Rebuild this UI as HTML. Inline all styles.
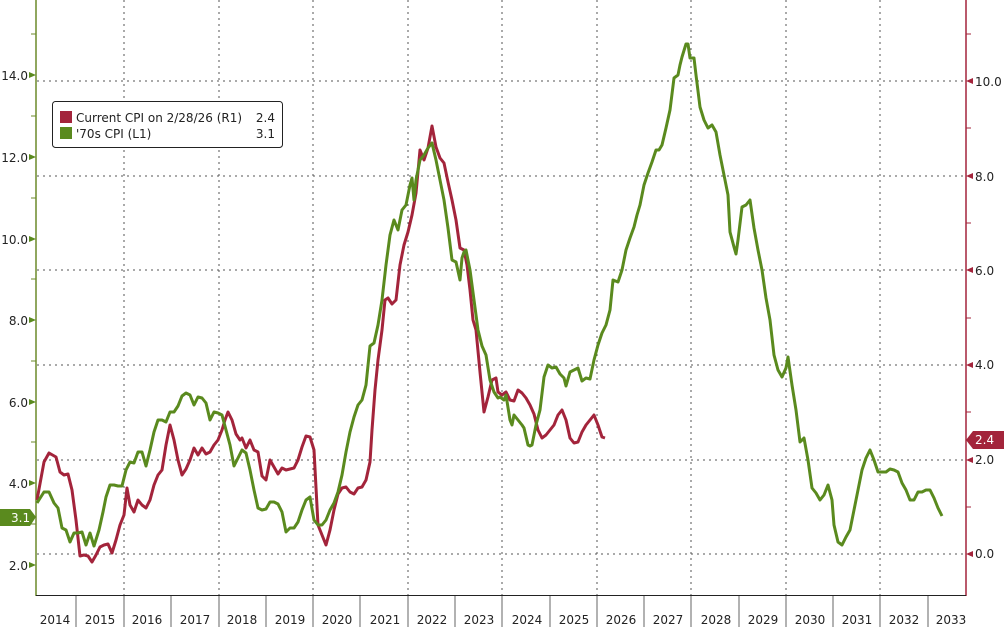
<!DOCTYPE html>
<html><head><meta charset="utf-8"><style>
html,body{margin:0;padding:0;background:#fff;}
svg{display:block;font-family:"DejaVu Sans","Liberation Sans",sans-serif;}
</style></head><body>
<svg width="1004" height="627" viewBox="0 0 1004 627" xmlns="http://www.w3.org/2000/svg">
<rect width="1004" height="627" fill="#fff"/>
<g stroke="#555" stroke-width="1" stroke-dasharray="2,4" fill="none">
<line x1="37" y1="81" x2="965" y2="81"/>
<line x1="37" y1="176" x2="965" y2="176"/>
<line x1="37" y1="270" x2="965" y2="270"/>
<line x1="37" y1="365" x2="965" y2="365"/>
<line x1="37" y1="460" x2="965" y2="460"/>
<line x1="37" y1="554" x2="965" y2="554"/>
<line x1="124" y1="0" x2="124" y2="595"/>
<line x1="219" y1="0" x2="219" y2="595"/>
<line x1="313" y1="0" x2="313" y2="595"/>
<line x1="408" y1="0" x2="408" y2="595"/>
<line x1="502" y1="0" x2="502" y2="595"/>
<line x1="597" y1="0" x2="597" y2="595"/>
<line x1="691" y1="0" x2="691" y2="595"/>
<line x1="786" y1="0" x2="786" y2="595"/>
<line x1="880" y1="0" x2="880" y2="595"/>
</g>
<line x1="36" y1="0" x2="36" y2="596" stroke="#6b8a2a" stroke-width="1.5"/>
<line x1="966" y1="0" x2="966" y2="596" stroke="#a3243b" stroke-width="1.5"/>
<line x1="36" y1="595.5" x2="966" y2="595.5" stroke="#222" stroke-width="1"/>
<g stroke="#666" stroke-width="1">
<line x1="76" y1="596" x2="76" y2="627"/><line x1="124" y1="596" x2="124" y2="627"/><line x1="171" y1="596" x2="171" y2="627"/><line x1="219" y1="596" x2="219" y2="627"/><line x1="266" y1="596" x2="266" y2="627"/><line x1="313" y1="596" x2="313" y2="627"/><line x1="360" y1="596" x2="360" y2="627"/><line x1="408" y1="596" x2="408" y2="627"/><line x1="455" y1="596" x2="455" y2="627"/><line x1="502" y1="596" x2="502" y2="627"/><line x1="550" y1="596" x2="550" y2="627"/><line x1="597" y1="596" x2="597" y2="627"/><line x1="644" y1="596" x2="644" y2="627"/><line x1="691" y1="596" x2="691" y2="627"/><line x1="739" y1="596" x2="739" y2="627"/><line x1="786" y1="596" x2="786" y2="627"/><line x1="833" y1="596" x2="833" y2="627"/><line x1="880" y1="596" x2="880" y2="627"/><line x1="928" y1="596" x2="928" y2="627"/>
</g>
<g font-size="12" fill="#222" text-anchor="middle">
<text x="55" y="624">2014</text><text x="100" y="624">2015</text><text x="147" y="624">2016</text><text x="195" y="624">2017</text><text x="242" y="624">2018</text><text x="290" y="624">2019</text><text x="337" y="624">2020</text><text x="385" y="624">2021</text><text x="432" y="624">2022</text><text x="479" y="624">2023</text><text x="527" y="624">2024</text><text x="574" y="624">2025</text><text x="621" y="624">2026</text><text x="668" y="624">2027</text><text x="716" y="624">2028</text><text x="763" y="624">2029</text><text x="810" y="624">2030</text><text x="857" y="624">2031</text><text x="904" y="624">2032</text><text x="951" y="624">2033</text>
</g>
<g font-size="12" fill="#222" text-anchor="end">
<text x="28" y="80">14.0</text><text x="28" y="162">12.0</text><text x="28" y="244">10.0</text><text x="28" y="325">8.0</text><text x="28" y="407">6.0</text><text x="28" y="488">4.0</text><text x="28" y="570">2.0</text>
</g>
<g fill="#5a8a1e">
<path d="M29,72 L36,75 L29,78Z"/><path d="M29,154 L36,157 L29,160Z"/><path d="M29,236 L36,239 L29,242Z"/><path d="M29,317 L36,320 L29,323Z"/><path d="M29,399 L36,402 L29,405Z"/><path d="M29,480 L36,483 L29,486Z"/><path d="M29,562 L36,565 L29,568Z"/>
</g>
<g stroke="#6b8a2a"><line x1="31" y1="34" x2="36" y2="34"/><line x1="31" y1="116" x2="36" y2="116"/><line x1="31" y1="198" x2="36" y2="198"/><line x1="31" y1="279" x2="36" y2="279"/><line x1="31" y1="361" x2="36" y2="361"/><line x1="31" y1="442" x2="36" y2="442"/><line x1="31" y1="524" x2="36" y2="524"/></g>
<g font-size="12" fill="#222">
<text x="975" y="86">10.0</text><text x="975" y="181">8.0</text><text x="975" y="275">6.0</text><text x="975" y="369">4.0</text><text x="975" y="464">2.0</text><text x="975" y="558">0.0</text>
</g>
<g fill="#a3243b">
<path d="M966,81 L973,78 L973,84Z"/><path d="M966,176 L973,173 L973,179Z"/><path d="M966,270 L973,267 L973,273Z"/><path d="M966,365 L973,362 L973,368Z"/><path d="M966,460 L973,457 L973,463Z"/><path d="M966,554 L973,551 L973,557Z"/>
</g>
<g stroke="#a3243b"><line x1="966" y1="34" x2="971" y2="34"/><line x1="966" y1="128" x2="971" y2="128"/><line x1="966" y1="223" x2="971" y2="223"/><line x1="966" y1="318" x2="971" y2="318"/><line x1="966" y1="412" x2="971" y2="412"/><line x1="966" y1="507" x2="971" y2="507"/></g>
<polyline fill="none" stroke="#a3243b" stroke-width="3" stroke-linejoin="round" points="37,500 44,462 49,453 56,457 60,472 64,475 68,474 72,490 76,520 80,556 84,555 88,556 92,562 96,555 100,547 104,545 108,544 112,553 116,540 120,525 124,515 127,488 130,505 134,512 138,500 142,505 146,508 150,500 154,485 158,475 162,470 166,445 170,425 174,440 178,460 182,475 186,469 190,460 194,448 198,455 202,448 206,454 210,452 214,445 218,440 222,430 225,420 228,412 232,420 236,434 240,440 242,438 246,448 250,440 254,450 258,452 262,476 266,480 270,460 274,467 278,474 282,468 286,470 290,469 294,468 298,460 302,447 306,436 310,437 314,450 318,525 322,535 326,545 330,530 334,510 338,494 342,488 346,487 350,492 354,494 358,488 362,487 366,480 370,462 372,430 375,390 378,360 382,330 385,300 388,298 392,304 396,300 400,265 404,245 408,232 412,215 416,193 420,150 424,160 428,148 432,126 436,147 440,158 444,163 448,182 452,200 456,220 460,248 464,250 467,265 470,290 473,320 476,330 480,372 484,412 488,397 492,380 496,378 498,392 502,395 506,392 510,400 514,401 518,390 522,393 526,398 530,405 534,414 538,430 542,438 546,435 550,430 554,425 558,415 562,410 566,420 570,438 574,443 578,442 582,432 586,425 590,420 594,415 598,425 602,437 605,438"/>
<polyline fill="none" stroke="#5a8a1e" stroke-width="3" stroke-linejoin="round" points="37,503 44,492 49,492 54,503 58,508 62,528 66,530 70,542 74,533 78,533 82,532 86,545 90,533 94,546 99,530 103,512 106,497 110,485 114,485 118,486 122,486 126,470 130,462 134,463 138,452 142,452 146,466 150,450 154,432 158,420 162,420 166,422 170,412 174,412 178,406 182,396 186,393 190,395 194,405 198,397 202,398 206,403 210,420 214,412 218,413 222,415 226,430 230,445 234,466 238,458 242,450 246,453 250,470 254,490 258,508 262,510 266,509 270,502 274,502 278,504 282,512 286,532 290,528 294,528 298,522 302,510 306,500 310,497 314,520 318,525 322,525 326,520 330,510 334,503 338,492 342,475 346,452 350,432 354,417 358,405 362,400 366,385 370,346 374,343 378,325 382,300 386,265 390,235 394,220 398,230 402,210 406,205 410,185 412,178 414,200 416,180 420,160 424,155 428,148 432,143 436,160 440,180 444,200 448,228 452,260 456,262 460,280 462,258 464,252 466,250 470,270 474,300 478,330 482,346 486,355 490,380 494,392 498,398 500,397 504,400 506,395 510,420 512,425 514,415 518,420 522,425 524,428 528,445 530,446 532,445 536,425 540,410 544,377 548,365 552,368 556,367 560,374 564,378 566,386 570,372 574,370 578,368 582,381 586,378 590,379 594,360 598,345 602,333 606,325 610,310 613,280 618,282 622,270 626,250 630,238 634,227 637,215 640,205 644,185 648,173 652,162 656,150 659,150 662,145 666,128 670,110 674,78 678,75 680,65 682,57 686,44 688,44 690,58 694,58 696,75 700,107 704,120 708,128 712,125 716,132 720,155 724,175 728,195 730,232 734,247 736,254 738,240 742,207 746,205 750,200 754,228 758,250 762,270 766,298 770,320 774,355 778,370 782,377 786,368 788,357 792,385 796,410 800,442 804,438 808,460 812,488 816,493 820,500 824,495 828,485 832,500 834,525 838,542 842,545 846,537 850,530 854,510 858,490 862,470 866,458 870,450 874,460 878,472 882,472 886,472 890,469 894,470 898,472 902,483 906,490 910,500 914,500 918,492 922,492 926,490 930,490 934,498 938,508 942,516"/>
<rect x="52.5" y="101.5" width="230" height="46" rx="3" fill="#fff" stroke="#222" stroke-width="1"/>
<rect x="60" y="111" width="12" height="12" fill="#a3243b"/>
<rect x="60" y="127" width="12" height="12" fill="#5a8a1e"/>
<g font-size="12" fill="#222">
<text x="76" y="122">Current CPI on 2/28/26 (R1)</text><text x="275" y="122" text-anchor="end">2.4</text>
<text x="76" y="138">'70s CPI (L1)</text><text x="275" y="138" text-anchor="end">3.1</text>
</g>
<path d="M0,509 L30,509 L36,517 L30,526 L0,526Z" fill="#5a8a1e"/>
<text x="11" y="522" font-size="12" fill="#fff">3.1</text>
<path d="M966,440 L973,431 L1004,431 L1004,449 L973,449Z" fill="#a3243b"/>
<text x="975" y="444" font-size="12" fill="#fff">2.4</text>
</svg>
</body></html>
